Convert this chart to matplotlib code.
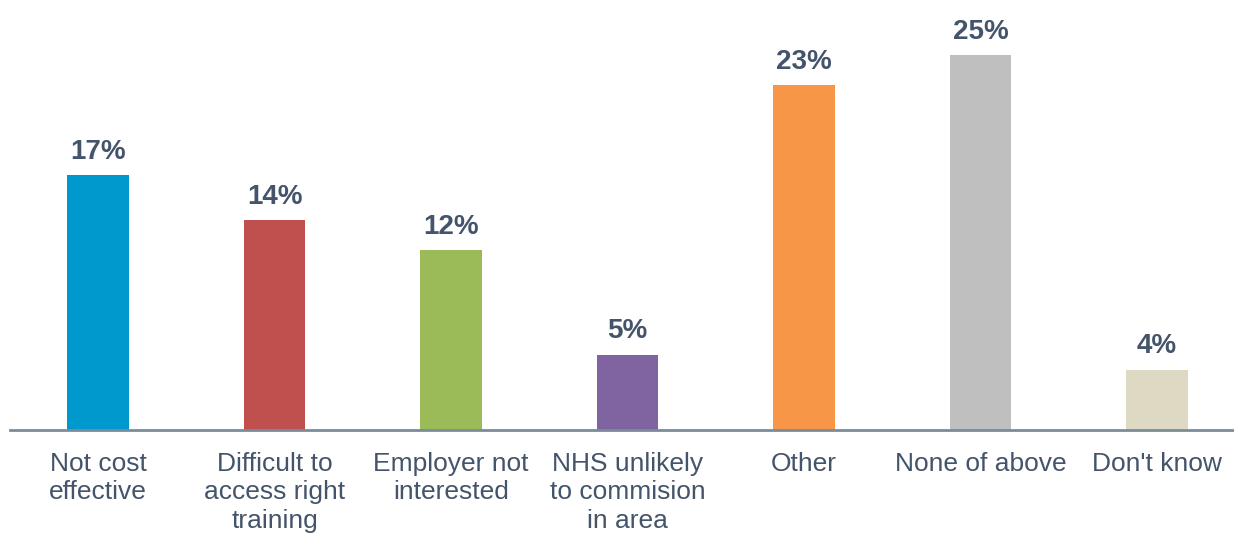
import matplotlib
matplotlib.use("Agg")
import matplotlib.pyplot as plt

categories = [
    "Not cost\neffective",
    "Difficult to\naccess right\ntraining",
    "Employer not\ninterested",
    "NHS unlikely\nto commision\nin area",
    "Other",
    "None of above",
    "Don't know",
]
values = [17, 14, 12, 5, 23, 25, 4]
colors = ["#0099CE", "#C0504D", "#9BBB59", "#8064A2", "#F79646", "#BFBFBF", "#DDD9C3"]

text_color = "#44546A"
axis_color = "#7A8C99"

plt.rcParams["font.family"] = ["Liberation Sans", "DejaVu Sans"]

fig = plt.figure(figsize=(12.34, 5.33), dpi=100)
ax = fig.add_axes([10 / 1234, 103 / 533, 1224 / 1234, 430 / 533])

x = range(len(values))
bars = ax.bar(x, values, width=0.35, color=colors, zorder=2)

for rect, v in zip(bars, values):
    ax.annotate(f"{v}%", (rect.get_x() + rect.get_width() / 2, v),
                xytext=(0, 12), textcoords="offset points",
                ha="center", va="baseline", fontsize=20, fontweight="bold",
                color=text_color)

ax.set_xlim(-0.4986, 6.436)
ax.set_ylim(0, 28.7)
ax.set_xticks(list(x))
ax.set_xticklabels(categories, fontsize=19, color=text_color, linespacing=1.22)
ax.tick_params(axis="x", length=0, pad=16)
ax.set_yticks([])

for side in ["top", "right", "left"]:
    ax.spines[side].set_visible(False)
ax.spines["bottom"].set_color(axis_color)
ax.spines["bottom"].set_linewidth(2)

fig.savefig("out.png", dpi=100)
